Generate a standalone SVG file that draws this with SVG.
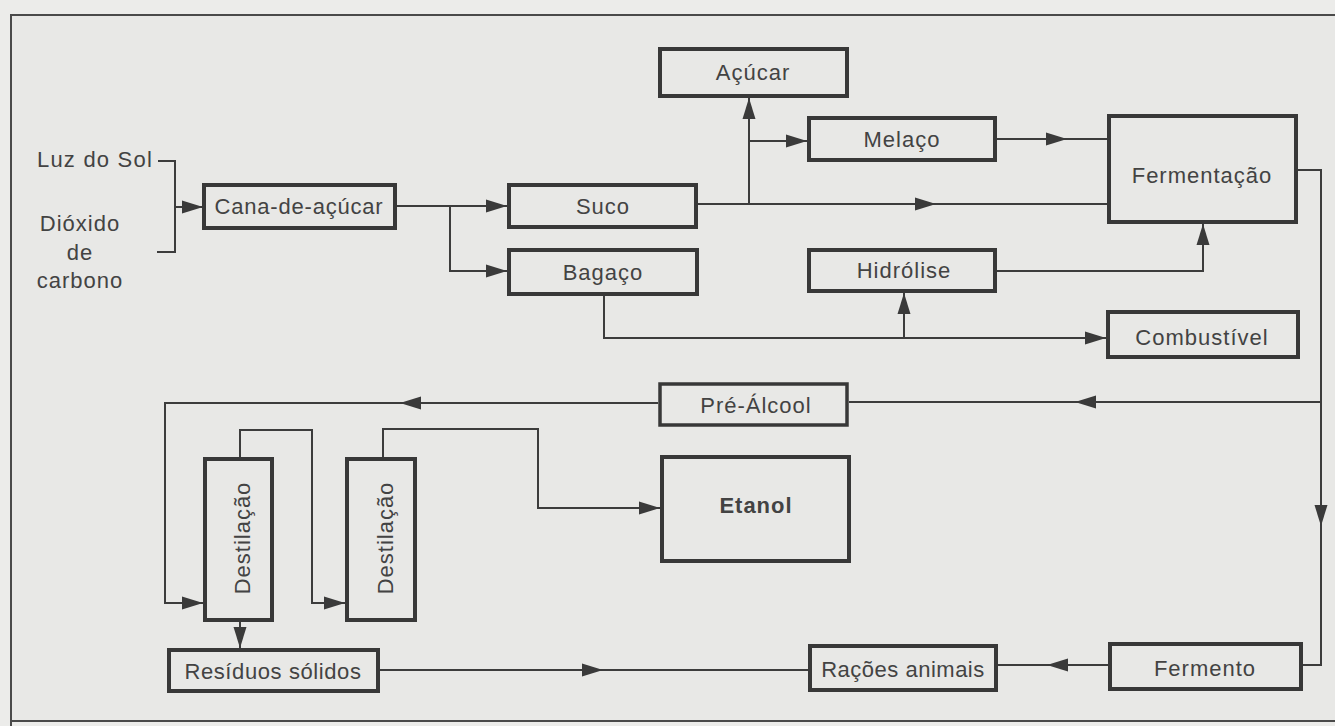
<svg xmlns="http://www.w3.org/2000/svg" xmlns:xlink="http://www.w3.org/1999/xlink" width="1335" height="726" viewBox="0 0 1335 726">
<style>
.box{fill:none;stroke:#383838;stroke-width:4}
.ln{fill:none;stroke:#3c3c3c;stroke-width:2}
.t{font-family:"Liberation Sans",Arial,sans-serif;font-size:22px;fill:#434343;letter-spacing:1px}
.c{text-anchor:middle}
.b{font-weight:bold}
</style>
<defs>
<path id="ah" d="M0,0 L-21,-6.5 L-21,6.5 Z" fill="#3a3a3a"/>
</defs>
<rect x="0" y="0" width="1335" height="726" fill="#ececea"/>
<rect x="11" y="15" width="1330" height="706" fill="#e8e8e6"/>
<path d="M11,726 V15 H1335 M11,721 H1335" fill="none" stroke="#4a4a4a" stroke-width="2"/>

<g id="connectors">
<path class="ln" d="M158,161 H175 V252 H157 M175,207 H202"/>
<use xlink:href="#ah" transform="translate(203,207)"/>
<path class="ln" d="M397,206 H507 M450,206 V271 H507"/>
<use xlink:href="#ah" transform="translate(507,206)"/>
<use xlink:href="#ah" transform="translate(507,271)"/>
<path class="ln" d="M698,204 H1107"/>
<use xlink:href="#ah" transform="translate(936,204)"/>
<path class="ln" d="M749,204 V98 M749,141 H807"/>
<use xlink:href="#ah" transform="translate(749,98) rotate(-90)"/>
<use xlink:href="#ah" transform="translate(807,141)"/>
<path class="ln" d="M997,139 H1107"/>
<use xlink:href="#ah" transform="translate(1067,139)"/>
<path class="ln" d="M997,271 H1203 V224"/>
<use xlink:href="#ah" transform="translate(1203,224) rotate(-90)"/>
<path class="ln" d="M604,296 V338 H1106 M904,338 V293"/>
<use xlink:href="#ah" transform="translate(1106,338)"/>
<use xlink:href="#ah" transform="translate(904,293) rotate(-90)"/>
<path class="ln" d="M1298,170 H1321 V665 H1303"/>
<use xlink:href="#ah" transform="translate(1321,526) rotate(90)"/>
<path class="ln" d="M1321,402 H849"/>
<use xlink:href="#ah" transform="translate(1075,402) rotate(180)"/>
<path class="ln" d="M658,403 H165 V603 H203"/>
<use xlink:href="#ah" transform="translate(400,403) rotate(180)"/>
<use xlink:href="#ah" transform="translate(203,603)"/>
<path class="ln" d="M240,457 V430 H312 V603 H345"/>
<use xlink:href="#ah" transform="translate(345,603)"/>
<path class="ln" d="M383,457 V429 H538 V508 H660"/>
<use xlink:href="#ah" transform="translate(660,508)"/>
<path class="ln" d="M240,622 V648"/>
<use xlink:href="#ah" transform="translate(240,648) rotate(90)"/>
<path class="ln" d="M380,670 H808"/>
<use xlink:href="#ah" transform="translate(603,670)"/>
<path class="ln" d="M1108,665 H998"/>
<use xlink:href="#ah" transform="translate(1047,665) rotate(180)"/>
</g>

<g id="inputs">
<text class="t" x="37" y="167" style="letter-spacing:1.2px">Luz do Sol</text>
<text class="t c" x="80" y="231">Dióxido</text>
<text class="t c" x="80" y="260">de</text>
<text class="t c" x="80" y="288">carbono</text>
</g>
<g id="cana"><rect class="box" x="204" y="185" width="191" height="43"/><text class="t c" x="299" y="214" style="letter-spacing:0.8px">Cana-de-açúcar</text></g>
<g id="suco"><rect class="box" x="509" y="185" width="187" height="42"/><text class="t c" x="603" y="214">Suco</text></g>
<g id="bagaco"><rect class="box" x="509" y="250" width="188" height="44"/><text class="t c" x="603" y="280">Bagaço</text></g>
<g id="acucar"><rect class="box" x="660" y="49" width="187" height="47"/><text class="t c" x="753" y="80">Açúcar</text></g>
<g id="melaco"><rect class="box" x="809" y="118" width="186" height="42"/><text class="t c" x="902" y="147">Melaço</text></g>
<g id="fermentacao"><rect class="box" x="1109" y="116" width="187" height="106"/><text class="t c" x="1202" y="183">Fermentação</text></g>
<g id="hidrolise"><rect class="box" x="809" y="250" width="186" height="41"/><text class="t c" x="904" y="278">Hidrólise</text></g>
<g id="combustivel"><rect class="box" x="1108" y="312" width="190" height="45"/><text class="t c" x="1202" y="345">Combustível</text></g>
<g id="prealcool"><rect class="box" x="660" y="384" width="187" height="41" style="stroke-width:3.5"/><text class="t c" x="756" y="413">Pré-Álcool</text></g>
<g id="etanol"><rect class="box" x="662" y="457" width="187" height="104"/><text class="t c b" x="756" y="513">Etanol</text></g>
<g id="destilacao1"><rect class="box" x="205" y="459" width="67" height="161"/><text class="t c" transform="translate(250,538) rotate(-90)">Destilação</text></g>
<g id="destilacao2"><rect class="box" x="347" y="459" width="68" height="161"/><text class="t c" transform="translate(393,538) rotate(-90)">Destilação</text></g>
<g id="residuos"><rect class="box" x="169" y="650" width="209" height="41"/><text class="t c" x="273" y="679" style="letter-spacing:0.6px">Resíduos sólidos</text></g>
<g id="racoes"><rect class="box" x="810" y="646" width="186" height="44"/><text class="t c" x="903" y="677" style="letter-spacing:0.5px">Rações animais</text></g>
<g id="fermento"><rect class="box" x="1110" y="644" width="191" height="45"/><text class="t c" x="1205" y="676">Fermento</text></g>
</svg>
